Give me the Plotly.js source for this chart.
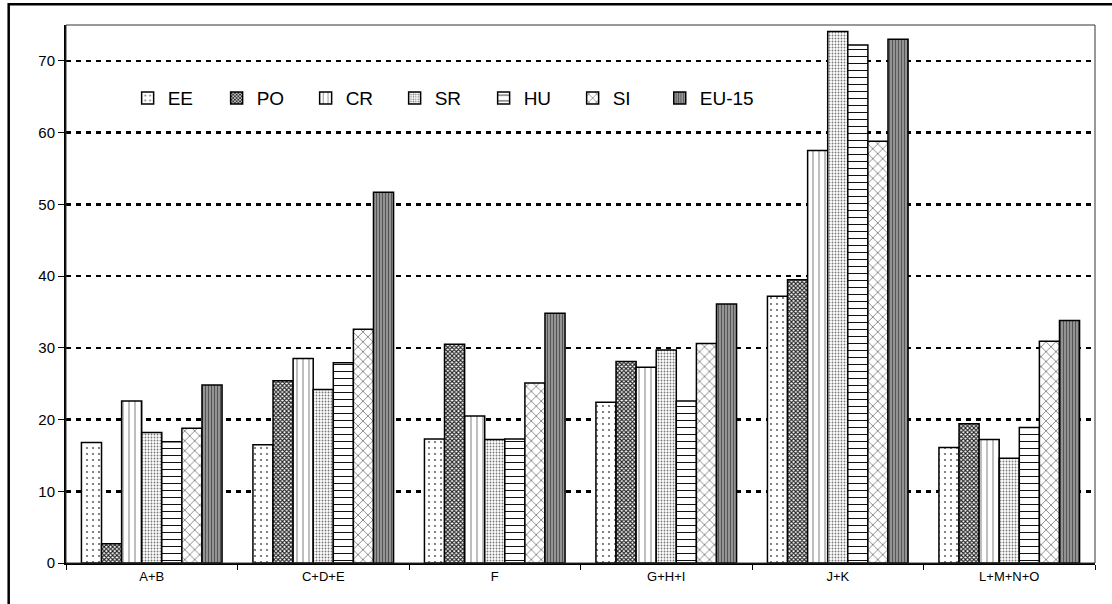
<!DOCTYPE html>
<html>
<head>
<meta charset="utf-8">
<script src="https://cdn.plot.ly/plotly-3.0.1.min.js"></script>
<style>
  html, body { margin: 0; padding: 0; background: #fff; }
  #chart { width: 1112px; height: 604px; }
</style>
</head>
<body>
<div id="chart"></div>
<script>
// Sector groups along the x axis
const sectors = ["A+B", "C+D+E", "F", "G+H+I", "J+K", "L+M+N+O"];

// Values per country / aggregate
const valEE   = [16.8, 16.5, 17.3, 22.4, 37.2, 16.1];
const valPO   = [2.7, 25.4, 30.5, 28.1, 39.5, 19.4];
const valCR   = [22.6, 28.5, 20.5, 27.3, 57.5, 17.2];
const valSR   = [18.2, 24.2, 17.2, 29.7, 74.1, 14.6];
const valHU   = [16.9, 27.9, 17.3, 22.6, 72.2, 18.9];
const valSI   = [18.8, 32.6, 25.1, 30.6, 58.8, 30.9];
const valEU15 = [24.8, 51.7, 34.8, 36.1, 73.0, 33.8];

const yTicks = [0, 10, 20, 30, 40, 50, 60, 70];

const FONT = "'Liberation Sans', Arial, sans-serif";

// Hatch fills for each series; the wider EU-15 label sits in its own legend box
const seriesStyle = [
  { name: "EE",    y: valEE,   bg: "#ffffff", shape: ".", size: 6, solidity: 0.1,  fg: "#666666", legend: "legend" },
  { name: "PO",    y: valPO,   bg: "#ffffff", shape: "x", size: 3, solidity: 0.6,  fg: "#222222", legend: "legend" },
  { name: "CR",    y: valCR,   bg: "#ffffff", shape: "|", size: 6, solidity: 0.18, fg: "#888888", legend: "legend" },
  { name: "SR",    y: valSR,   bg: "#ffffff", shape: ".", size: 3, solidity: 0.3,  fg: "#777777", legend: "legend" },
  { name: "HU",    y: valHU,   bg: "#ffffff", shape: "-", size: 7, solidity: 0.15, fg: "#111111", legend: "legend" },
  { name: "SI",    y: valSI,   bg: "#ffffff", shape: "x", size: 7, solidity: 0.18, fg: "#555555", legend: "legend" },
  { name: "EU-15", y: valEU15, bg: "#9a9a9a", shape: "|", size: 3, solidity: 0.4,  fg: "#555555", legend: "legend2" }
];

const traces = seriesStyle.map(s => ({
  type: "bar",
  name: s.name,
  x: sectors,
  y: s.y,
  legend: s.legend,
  marker: {
    color: s.bg,
    line: { color: "#000000", width: 1.5 },
    pattern: { shape: s.shape, size: s.size, solidity: s.solidity, fgcolor: s.fg, bgcolor: s.bg, fillmode: "replace" }
  },
  hoverinfo: "x+y+name"
}));

const legendBase = {
  orientation: "h",
  xanchor: "left",
  y: 0.864, yanchor: "middle",
  bgcolor: "rgba(0,0,0,0)",
  font: { size: 19, family: FONT },
  traceorder: "normal"
};

const layout = {
  width: 1112,
  height: 604,
  margin: { l: 66, r: 17, t: 25, b: 41 },
  paper_bgcolor: "#ffffff",
  plot_bgcolor: "#ffffff",
  font: { family: FONT, color: "#000000" },
  barmode: "group",
  bargap: 0.18,
  bargroupgap: 0,
  showlegend: true,
  legend: Object.assign({}, legendBase, { x: 0.0599, entrywidth: 44, entrywidthmode: "pixels" }),
  legend2: Object.assign({}, legendBase, { x: 0.577 }),
  xaxis: {
    type: "category",
    showline: true, linecolor: "#000000", linewidth: 2,
    ticks: "outside", ticklen: 5, tickwidth: 1, tickcolor: "#000000",
    tickson: "boundaries",
    showgrid: false,
    tickfont: { size: 13, family: FONT },
    fixedrange: true
  },
  yaxis: {
    range: [0, 75],
    tickvals: yTicks,
    ticktext: yTicks.map(String),
    showline: true, linecolor: "#000000", linewidth: 2,
    ticks: "outside", ticklen: 6, tickwidth: 1, tickcolor: "#000000",
    showgrid: true, gridcolor: "#000000", gridwidth: 2.5, griddash: "5px,5px",
    zeroline: false,
    tickfont: { size: 15, family: FONT },
    fixedrange: true
  },
  shapes: [
    // thin frame around the plotting area
    { type: "rect", xref: "paper", yref: "paper", x0: 0, x1: 1, y0: 0, y1: 1,
      line: { color: "#333333", width: 1 }, layer: "above" },
    // outer border of the chart
    { type: "rect", xref: "paper", yref: "paper", x0: -0.0557, x1: 1.025, y0: -0.09, y1: 1.0385,
      line: { color: "#000000", width: 2.5 }, layer: "above" }
  ]
};

Plotly.newPlot("chart", traces, layout, { displayModeBar: false, staticPlot: true });
</script>
</body>
</html>
